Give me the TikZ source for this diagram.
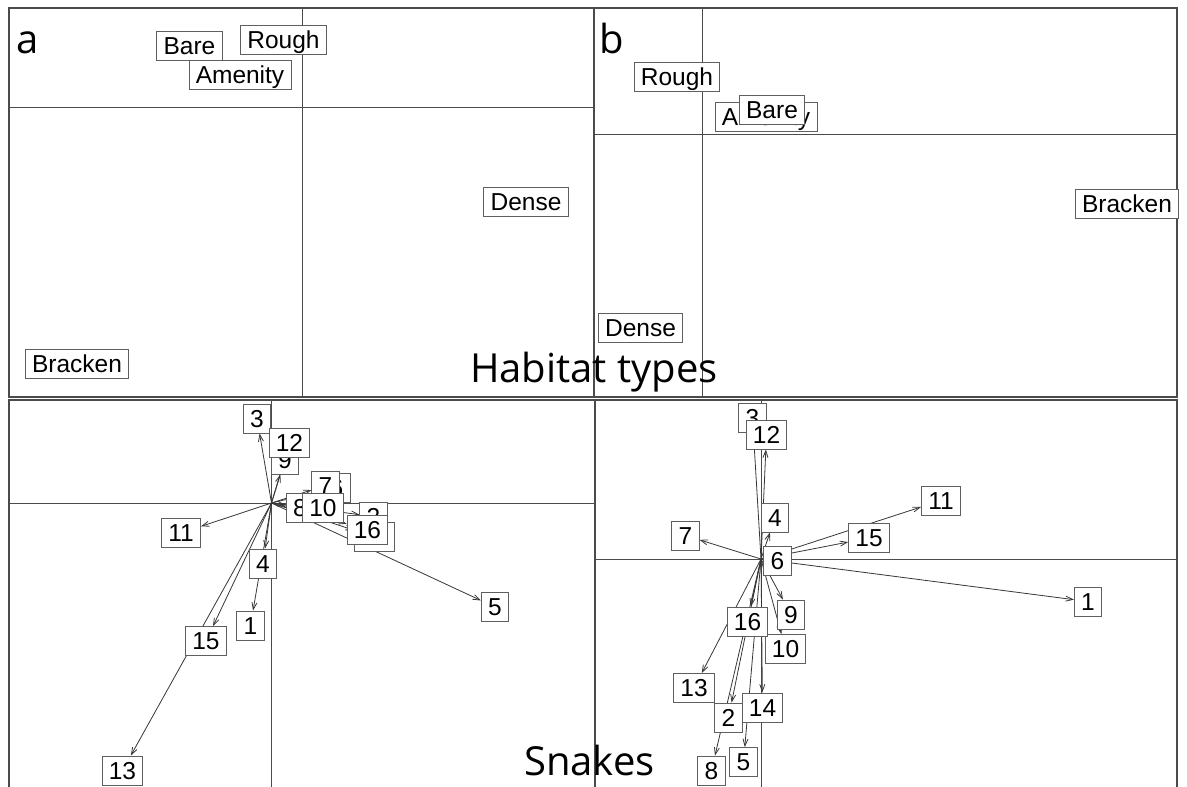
\documentclass[tikz,border=0pt]{standalone}
\usepackage{fontspec}
\setmainfont{Liberation Sans}
\newfontfamily\bigfont{Open Sans}
\usetikzlibrary{arrows.meta}
\pgfdeclarelayer{bg}
\pgfdeclarelayer{mid}
\pgfsetlayers{bg,mid,main}
\definecolor{framec}{RGB}{75,75,75}
\definecolor{boxc}{RGB}{95,95,95}
\definecolor{arrc}{RGB}{55,55,55}
\begin{document}
\begin{tikzpicture}[x=1pt,y=-1pt,
  lab/.style={draw=boxc, fill=white, line width=0.9pt, font=\fontsize{24.5}{24.5}\selectfont,
    inner xsep=6.8pt, inner ysep=0pt, minimum height=29pt, text height=17.5pt, text depth=0pt},
  arr/.style={draw=arrc, line width=0.8pt, -{Straight Barb[length=7pt,width=5pt]}},
  frm/.style={draw=framec, line width=1.2pt},
  ax/.style={draw=framec, line width=1pt},
  big/.style={font=\bigfont\fontsize{40}{40}\selectfont, inner sep=0pt, anchor=base west}]
\useasboundingbox (0,0) rectangle (1187,787);
\begin{pgfonlayer}{bg}
  \fill[white] (0,0) rectangle (1187,787);
  % frames
  \draw[frm] (9,8) rectangle (594,397);
  \draw[frm] (594,8) rectangle (1177,397);
  \draw[frm] (9,787) -- (9,400) -- (595,400) -- (595,787);
  \draw[frm] (595,400) -- (1177,400) -- (1177,787);
  % axes
  \draw[ax] (302,8) -- (302,397);
  \draw[ax] (9,107) -- (594,107);
  \draw[ax] (702,8) -- (702,397);
  \draw[ax] (594,134) -- (1177,134);
  \draw[ax] (271.5,400) -- (271.5,787);
  \draw[ax] (9,503) -- (595,503);
  \draw[ax] (761,400) -- (761,787);
  \draw[ax] (595,559) -- (1177,559);
\end{pgfonlayer}

\coordinate (O1) at (271.5,503);
\coordinate (O2) at (761,559);

% panel a (habitats)
\node[lab] (aAmenity) at (240,74.5) {Amenity};
\node[lab] (aBare) at (189.5,45.5) {Bare};
\node[lab] (aBracken) at (77,364) {Bracken};
\node[lab] (aDense) at (526,202) {Dense};
\node[lab] (aRough) at (283.5,40) {Rough};

% panel b (habitats)
\node[lab] (bAmenity) at (766,117) {Amenity};
\node[lab] (bBare) at (772,109.5) {Bare};
\node[lab] (bBracken) at (1127,203.5) {Bracken};
\node[lab] (bDense) at (640.5,327.5) {Dense};
\node[lab] (bRough) at (677,77) {Rough};

% panel a (snakes)
\node[lab] (c1) at (250.5,625.5) {1};
\node[lab] (c2) at (373.5,516.5) {2};
\node[lab] (c3) at (257,418.5) {3};
\node[lab] (c4) at (263,563.5) {4};
\node[lab] (c5) at (495,607) {5};
\node[lab] (c6) at (336.5,487.5) {6};
\node[lab] (c7) at (325.5,485.5) {7};
\node[lab] (c8) at (300,507.5) {8};
\node[lab] (c9) at (285,459.5) {9};
\node[lab] (c10) at (323,507.5) {10};
\node[lab] (c11) at (181,533) {11};
\node[lab] (c12) at (289.5,442.5) {12};
\node[lab] (c13) at (122.5,770.5) {13};
\node[lab] (c14) at (374.5,537) {14};
\node[lab] (c15) at (206,641) {15};
\node[lab] (c16) at (367.5,529.5) {16};

% panel b (snakes)
\node[lab] (d1) at (1088,601.5) {1};
\node[lab] (d2) at (728.5,717.5) {2};
\node[lab] (d3) at (752.5,417.5) {3};
\node[lab] (d4) at (775,517.5) {4};
\node[lab] (d5) at (743.5,762) {5};
\node[lab] (d6) at (777.5,560.5) {6};
\node[lab] (d7) at (685.5,535.5) {7};
\node[lab] (d8) at (711.5,770.5) {8};
\node[lab] (d9) at (791,614.5) {9};
\node[lab] (d10) at (785.5,649) {10};
\node[lab] (d11) at (941,500.5) {11};
\node[lab] (d12) at (766.5,434.5) {12};
\node[lab] (d13) at (694,688) {13};
\node[lab] (d14) at (762.5,707.5) {14};
\node[lab] (d15) at (869,538) {15};
\node[lab] (d16) at (747.5,621.5) {16};

\begin{pgfonlayer}{mid}
  \foreach \n in {1,2,3,4,5,6,7,8,9,10,11,12,13,14,15,16}
    \draw[arr] (O1) -- (c\n);
  \foreach \n in {1,2,3,4,5,7,8,9,10,11,12,13,14,15,16}
    \draw[arr] (O2) -- (d\n);
\end{pgfonlayer}

% titles
\node[big] (la) at (16,53) {a};
\node[big] (lb) at (599,53) {b};
\node[big] (hab) at (470,382) {Habitat types};
\node[big] (snk) at (524,775) {Snakes};
\end{tikzpicture}
\end{document}
